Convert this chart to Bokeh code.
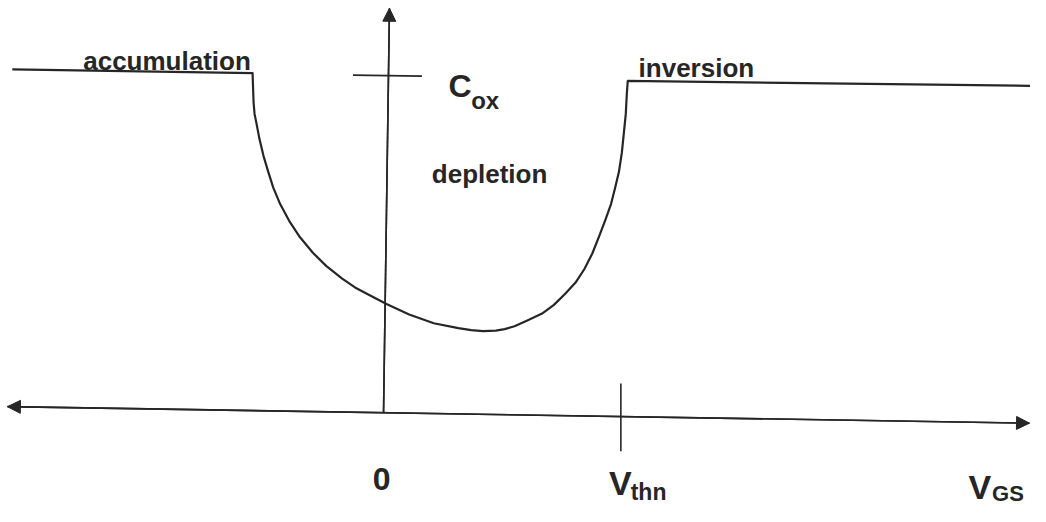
from bokeh.plotting import figure
from bokeh.models import Range1d, Arrow, NormalHead, ColumnDataSource
from bokeh.core.properties import value
from bokeh.embed import file_html
from bokeh.resources import INLINE

# ---- data (picture coordinates, y downward) ----
# C-V curve: accumulation plateau, depletion dip, inversion plateau
curve_x = [12, 256, 256.5, 257, 258, 260, 263, 267, 272, 277, 284, 293, 304, 317,
           331, 347, 360, 373, 392, 415, 440, 465, 478, 490, 503, 512, 522, 535,
           550, 562, 573, 584, 593, 601, 608, 614, 620, 624, 628, 631, 633, 635,
           636, 637, 1046]
curve_y = [71, 75, 90, 105, 117, 127, 143, 160, 177, 193, 210, 227, 244, 260,
           274, 287, 296, 303, 313, 324, 333, 338, 340, 341, 340.5, 339, 336, 330,
           323, 314, 303, 291, 277, 261, 243, 227, 210, 194, 177, 157, 137, 117,
           97, 83, 88]

# axes (V_GS horizontal, C vertical)
h_axis_x = [7, 1045]
h_axis_y = [419, 436]
v_axis_x = [395, 389]
v_axis_y = [8, 425]

# tick marks: C_ox on the vertical axis, V_thn on the horizontal axis
cox_tick_x = [358, 428]
cox_tick_y = [77, 78]
vth_tick_x = [630, 630]
vth_tick_y = [395, 465]

# labels
region_labels = ["accumulation", "depletion", "inversion"]
region_x = [84, 438, 648]
region_y = [62, 179, 70]

main_labels = ["C", "0", "V", "V"]
main_x = [455, 378, 618, 983]
main_y = [88, 494, 498, 502]
main_size = ["32px", "32px", "34px", "34px"]

sub_labels = ["ox", "thn", "GS"]
sub_x = [478, 640, 1007]
sub_y = [103, 507, 509]
sub_size = ["24px", "23px", "22px"]

INK = "#262626"
FONT = value("Liberation Sans")

p = figure(width=1030, height=506, output_backend="svg", toolbar_location=None,
           x_range=Range1d(0, 1046), y_range=Range1d(522, 0),
           x_axis_type=None, y_axis_type=None, min_border=0)
p.grid.visible = False
p.outline_line_color = None
p.background_fill_color = "white"
p.border_fill_color = "white"

# curve
p.line(curve_x, curve_y, line_color=INK, line_width=2.2, line_join="round")

# axes lines
p.line(h_axis_x, h_axis_y, line_color=INK, line_width=1.6)
p.line(v_axis_x, v_axis_y, line_color=INK, line_width=1.6)

# arrow heads
p.add_layout(Arrow(x_start=h_axis_x[0], y_start=h_axis_y[0],
                   x_end=h_axis_x[1], y_end=h_axis_y[1],
                   start=NormalHead(size=13, fill_color=INK, line_color=INK),
                   end=NormalHead(size=13, fill_color=INK, line_color=INK),
                   line_color=INK, line_width=1.6))
p.add_layout(Arrow(x_start=v_axis_x[1], y_start=v_axis_y[1],
                   x_end=v_axis_x[0], y_end=v_axis_y[0],
                   end=NormalHead(size=13, fill_color=INK, line_color=INK),
                   line_color=INK, line_width=1.6))

# ticks
p.line(cox_tick_x, cox_tick_y, line_color=INK, line_width=1.6)
p.line(vth_tick_x, vth_tick_y, line_color=INK, line_width=1.6)

# texts
p.text(x=region_x, y=region_y, text=region_labels, text_font=FONT,
       text_font_style="bold", text_font_size="26px", text_color=INK,
       text_baseline="alphabetic", text_align="left")

src_main = ColumnDataSource(dict(x=main_x, y=main_y, t=main_labels, s=main_size))
p.text(x="x", y="y", text="t", text_font_size="s", source=src_main, text_font=FONT,
       text_font_style="bold", text_color=INK, text_baseline="alphabetic",
       text_align="left")

src_sub = ColumnDataSource(dict(x=sub_x, y=sub_y, t=sub_labels, s=sub_size))
p.text(x="x", y="y", text="t", text_font_size="s", source=src_sub, text_font=FONT,
       text_font_style="bold", text_color=INK, text_baseline="alphabetic",
       text_align="left")

open("out.html", "w").write(file_html(p, INLINE))
